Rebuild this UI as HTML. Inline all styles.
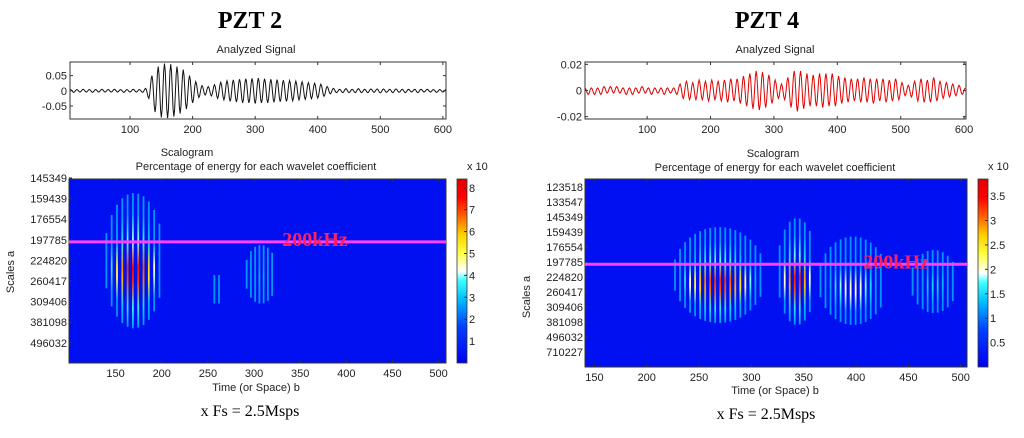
<!DOCTYPE html>
<html><head><meta charset="utf-8"><style>
body{margin:0;background:#fff;}
svg text{font-family:"Liberation Sans",sans-serif;fill:#222;}
.serif{font-family:"Liberation Serif",serif !important;}
</style></head><body>
<svg id="s" xmlns="http://www.w3.org/2000/svg" width="1024" height="433" viewBox="0 0 1024 433">
<defs>
<linearGradient id="cbar" x1="0" y1="1" x2="0" y2="0">
<stop offset="0" stop-color="#0000f0"/><stop offset="0.2" stop-color="#0040ff"/><stop offset="0.35" stop-color="#00c0ff"/><stop offset="0.45" stop-color="#40ffff"/><stop offset="0.5" stop-color="#ffffff"/><stop offset="0.6" stop-color="#ffff40"/><stop offset="0.7" stop-color="#ffd000"/><stop offset="0.8" stop-color="#ff6000"/><stop offset="0.9" stop-color="#ff0000"/><stop offset="1" stop-color="#e00000"/>
</linearGradient>
</defs>
<g id="root"></g>
</svg>
<script>
// ---- data ----
const sigLeftStart = 5, sigRightStart = 2, sigStep = 5;
const sigLeftAmp = [0.004,0.005,0.004,0.004,0.005,0.004,0.004,0.005,0.004,0.004,0.005,0.004,0.004,0.004,0.005,0.004,0.004,0.005,0.004,0.004,0.005,0.004,0.004,0.005,
0.008,0.025,0.05,0.07,0.08,0.088,0.09,0.09,0.088,0.085,0.08,0.075,0.07,0.06,0.05,0.04,0.03,0.022,0.017,0.014,0.014,0.017,0.02,0.025,0.028,0.03,0.033,0.035,0.036,0.037,0.038,0.04,0.04,0.04,0.041,0.042,0.042,0.04,0.04,0.04,0.038,0.038,0.037,0.036,0.035,0.035,0.034,0.033,0.032,0.03,0.03,0.028,0.027,0.026,0.025,0.024,0.022,0.018,0.014,0.01,0.008,
0.006,0.005,0.006,0.007,0.006,0.005,0.006,0.007,0.006,0.005,0.006,0.006,0.005,0.006,0.007,0.006,0.005,0.005,0.006,0.006,0.005,0.005,0.006,0.005,0.004,0.005,0.006,0.005,0.004,0.005,0.004,0.004,0.005,0.004,0.004,0.004];
const sigRightAmp = [0.002,0.003,0.002,0.003,0.002,0.003,0.003,0.002,0.003,0.002,0.003,0.002,0.002,0.003,0.002,0.003,0.002,0.002,0.003,0.002,0.002,0.003,0.002,0.002,0.002,0.003,0.002,0.002,0.002,0.003,
0.005,0.006,0.007,0.007,0.006,0.007,0.008,0.007,0.007,0.008,0.008,0.007,0.007,0.008,0.008,0.009,0.009,0.008,0.009,0.01,
0.011,0.012,0.013,0.014,0.015,0.015,0.014,0.013,0.012,0.01,
0.008,0.006,0.005,0.007,0.01,0.013,
0.015,0.016,0.015,0.014,0.013,0.012,0.012,
0.012,0.013,0.013,0.013,0.012,0.013,0.012,0.011,0.01,0.01,0.009,0.009,
0.008,0.009,0.009,0.01,0.009,0.009,0.01,0.009,0.008,0.009,0.009,0.008,0.008,0.009,0.007,0.006,
0.004,0.004,0.005,0.007,0.008,0.009,0.009,0.008,0.009,0.01,0.008,0.007,0.006,0.006,0.005,0.005,0.004,0.004,0.003,0.002];
const sigLeftTicksY = ["0.05","0","-0.05"], sigLeftTickVals=[0.05,0,-0.05];
const sigRightTicksY = ["0.02","0","-0.02"], sigRightTickVals=[0.02,0,-0.02];
const sigTicksX = [100,200,300,400,500,600];
const scaleLabelsLeft = ["145349","159439","176554","197785","224820","260417","309406","381098","496032"];
const scaleLabelsRight = ["123518","133547","145349","159439","176554","197785","224820","260417","309406","381098","496032","710227"];
const timeTicksLeft = [150,200,250,300,350,400,450,500];
const timeTicksRight = [150,200,250,300,350,400,450,500];
const cbarLeftTicks = [1,2,3,4,5,6,7,8];
const cbarRightTicks = [0.5,1,1.5,2,2.5,3,3.5];
// blobs: b start, b end, stripe spacing, top scale index, bottom scale index, peak value
const blobLeftStart=[140,292,257], blobLeftEnd=[200,323,262], blobLeftSpacing=[5.75,4.6,5], blobLeftTop=[0.73,3.25,4.6], blobLeftBottom=[7.3,6.1,6.2], blobLeftPeak=[8,3,1];
const blobRightStart=[227,327,366,454], blobRightEnd=[311,360,428,495], blobRightSpacing=[4.8,4.8,4.8,4.8], blobRightTop=[2.67,2.07,3.3,4.2], blobRightBottom=[9.07,9.2,9.2,8.4], blobRightPeak=[3.5,3.6,2.2,1.6];
const freqLeftIdx = 3.1, freqRightIdx = 5.15;

// ---- helpers ----
const NS="http://www.w3.org/2000/svg";
const root=document.getElementById('root');
function el(tag,attrs,parent,text){const e=document.createElementNS(NS,tag);for(const k in attrs)e.setAttribute(k,attrs[k]);if(text!==undefined)e.textContent=text;(parent||root).appendChild(e);return e;}
function jet(t){t=Math.max(0,Math.min(1,t));const st=[[0,[0,0,240]],[0.2,[0,64,255]],[0.35,[0,192,255]],[0.45,[64,255,255]],[0.5,[255,255,255]],[0.6,[255,255,64]],[0.7,[255,208,0]],[0.8,[255,96,0]],[0.9,[255,0,0]],[1,[224,0,0]]];for(let i=1;i<st.length;i++){if(t<=st[i][0]){const a=st[i-1],b=st[i];const f=(t-a[0])/(b[0]-a[0]);const c=a[1].map((v,j)=>Math.round(v+(b[1][j]-v)*f));return `rgb(${c})`;}}return 'rgb(224,0,0)';}

function text(x,y,s,name,opts){const t=el('text',Object.assign({x:x,y:y,'font-size':11,'text-anchor':'middle'},opts||{}),root,s);return t;}

// ---- signal plot ----
function signalPlot(cfg){
  const g=el('g',{});
  
  
  const xs=v=>cfg.x0+(v-cfg.xmin)/(cfg.xmax-cfg.xmin)*(cfg.x1-cfg.x0);
  const ys=v=>cfg.y0+(cfg.ymax-v)/(cfg.ymax-cfg.ymin)*(cfg.y1-cfg.y0);
  el('rect',{x:cfg.x0,y:cfg.y0,width:cfg.x1-cfg.x0,height:cfg.y1-cfg.y0,fill:'#fff',stroke:'#333','stroke-width':1},g);
  let d='';let px=null,py=null;
  cfg.amp.forEach((a,i)=>{const b=cfg.start+i*cfg.step;const v=(i%2?-a:a);
    if(px===null){d+=`M${xs(b)},${ys(v)}`;}
    else{for(let k=1;k<=4;k++){const f=k/4;const bb=px+(b-px)*f;const vv=py+(v-py)*(1-Math.cos(Math.PI*f))/2;d+=`L${xs(bb).toFixed(2)},${ys(vv).toFixed(2)}`;}}
    px=b;py=v;});
  const line=el('path',{d:d,fill:'none',stroke:cfg.color,'stroke-width':1},g);
  
  
  cfg.ticksX.forEach(v=>{const x=xs(v);el('line',{x1:x,x2:x,y1:cfg.y1,y2:cfg.y1-3,stroke:'#333'},g);el('line',{x1:x,x2:x,y1:cfg.y0,y2:cfg.y0+3,stroke:'#333'},g);
    const t=el('text',{x:x,y:cfg.y1+14,'font-size':11,'text-anchor':'middle'},g,String(v));});
  cfg.tickVals.forEach((v,i)=>{const y=ys(v);el('line',{x1:cfg.x0,x2:cfg.x0+3,y1:y,y2:y,stroke:'#333'},g);el('line',{x1:cfg.x1,x2:cfg.x1-3,y1:y,y2:y,stroke:'#333'},g);
    const t=el('text',{x:cfg.x0-3,y:y+4,'font-size':11,'text-anchor':'end'},g,cfg.tickLabels[i]);});
}

// ---- scalogram ----
function scalogram(cfg){
  const g=el('g',{});
  
  
  const xs=b=>cfg.x0+(b-cfg.bmin)/(cfg.bmax-cfg.bmin)*(cfg.x1-cfg.x0);
  const yi=i=>cfg.yLab0+i*cfg.yLabStep;
  el('rect',{x:cfg.x0,y:cfg.y0,width:cfg.x1-cfg.x0,height:cfg.y1-cfg.y0,fill:'#0010f0'},g);
  cfg.bS.forEach((bs,k)=>{
    const be=cfg.bE[k],mid=(bs+be)/2,half=(be-bs)/2;const cy=(cfg.top[k]+cfg.bot[k])/2,hh=(cfg.bot[k]-cfg.top[k])/2;
    for(let b=bs;b<=be+0.01;b+=cfg.sp[k]){
      const r=Math.max(0.15,Math.sqrt(Math.max(0,1-Math.pow((b-mid)/(half+cfg.sp[k]*0.5),2))));
      const gid='g'+cfg.name+k+'_'+Math.round(b*10);
      const lg=el('linearGradient',{id:gid,x1:0,y1:0,x2:0,y2:1},document.querySelector('defs'));
      const pk=cfg.peak[k]*r*r/cfg.vmax;
      [[0,0.15],[0.15,0.3],[0.35,0.5],[0.55,0.95],[0.65,0.9],[0.85,0.45],[1,0.15]].forEach(s=>el('stop',{offset:s[0],'stop-color':jet(Math.max(0.3,pk*s[1]))},lg));
      const top=yi(cy-hh*r),bot=yi(cy+hh*r);
      const st=el('rect',{x:xs(b)-0.9,y:top,width:1.8,height:bot-top,fill:`url(#${gid})`},g);
      
      
    }
  });
  el('rect',{x:cfg.x0,y:cfg.y0,width:cfg.x1-cfg.x0,height:cfg.y1-cfg.y0,fill:'none',stroke:'#333'},g);
  const fy=yi(cfg.freqIdx);
  const fl=el('line',{x1:cfg.x0,x2:cfg.x1,y1:fy,y2:fy,stroke:'#ff40ff','stroke-width':3},g);
  
  const ft=el('text',{x:cfg.freqX,y:fy+4,'font-size':20,'font-weight':'bold','text-anchor':'middle',class:'serif',style:'fill:#ff2060'},g,'200kHz');
  
  cfg.ylabels.forEach((s,i)=>{const y=yi(i);el('line',{x1:cfg.x0,x2:cfg.x0+3,y1:y,y2:y,stroke:'#333'},g);
    const t=el('text',{x:cfg.x0-2,y:y+4,'font-size':11,'text-anchor':'end'},g,s);});
  cfg.xticks.forEach(v=>{const x=xs(v);el('line',{x1:x,x2:x,y1:cfg.y1,y2:cfg.y1-3,stroke:'#333'},g);el('line',{x1:x,x2:x,y1:cfg.y0,y2:cfg.y0+3,stroke:'#333'},g);
    const t=el('text',{x:x,y:cfg.y1+14,'font-size':11,'text-anchor':'middle'},g,String(v));});
  // colorbar
  const cb=el('rect',{x:cfg.cbx,y:cfg.y0,width:10,height:cfg.y1-cfg.y0,fill:'url(#cbar)',stroke:'#333','stroke-width':0.8},g);
  
  cfg.cticks.forEach(v=>{const y=cfg.y1-v/cfg.vmax*(cfg.y1-cfg.y0);el('line',{x1:cfg.cbx+10,x2:cfg.cbx+7,y1:y,y2:y,stroke:'#333'},g);
    const t=el('text',{x:cfg.cbx+12,y:y+4,'font-size':11,'text-anchor':'start'},g,String(v));});
  const xt=el('text',{x:cfg.cbx+10,y:cfg.y0-9,'font-size':11,'text-anchor':'start'},g,'x 10');
}

// ---- left panel ----
text(250,28,'PZT 2','title-pzt2',{'font-size':24,'font-weight':'bold',class:'serif','style':'fill:#000'});
text(256,53,'Analyzed Signal','signal-title-left');
signalPlot({name:'signal-plot-left',x0:70,x1:446,y0:62,y1:119,xmin:4,xmax:605,ymin:-0.093,ymax:0.095,amp:sigLeftAmp,start:sigLeftStart,step:sigStep,color:'#111',ticksX:sigTicksX,tickVals:sigLeftTickVals,tickLabels:sigLeftTicksY});
text(187,156,'Scalogram','scalogram-title-left');
text(256,170,'Percentage of energy for each wavelet coefficient','scalogram-subtitle-left');
scalogram({name:'scalogram-left',x0:69,x1:446,y0:179,y1:363,bmin:99.5,bmax:508,yLab0:178,yLabStep:20.6,ylabels:scaleLabelsLeft,xticks:timeTicksLeft,bS:blobLeftStart,bE:blobLeftEnd,sp:blobLeftSpacing,top:blobLeftTop,bot:blobLeftBottom,peak:blobLeftPeak,vmax:8.4,freqIdx:freqLeftIdx,freqX:315,cbx:457,cticks:cbarLeftTicks});
text(14,272,'Scales a','y-axis-title-left',{transform:'rotate(-90 14 272)'});
text(256,391,'Time (or Space) b','x-axis-title-left');
text(250,416,'x Fs = 2.5Msps','sampling-note-left',{'font-size':16,class:'serif',style:'fill:#000'});

// ---- right panel ----
text(767,28,'PZT 4','title-pzt4',{'font-size':24,'font-weight':'bold',class:'serif','style':'fill:#000'});
text(775,53,'Analyzed Signal','signal-title-right');
signalPlot({name:'signal-plot-right',x0:585,x1:966,y0:62,y1:119,xmin:2,xmax:603,ymin:-0.0218,ymax:0.0218,amp:sigRightAmp,start:sigRightStart,step:sigStep,color:'#e00000',ticksX:sigTicksX,tickVals:sigRightTickVals,tickLabels:sigRightTicksY});
text(773,157,'Scalogram','scalogram-title-right');
text(775,171,'Percentage of energy for each wavelet coefficient','scalogram-subtitle-right');
scalogram({name:'scalogram-right',x0:585,x1:967,y0:179,y1:367,bmin:141,bmax:506,yLab0:187,yLabStep:15,ylabels:scaleLabelsRight,xticks:timeTicksRight,bS:blobRightStart,bE:blobRightEnd,sp:blobRightSpacing,top:blobRightTop,bot:blobRightBottom,peak:blobRightPeak,vmax:3.85,freqIdx:freqRightIdx,freqX:896,cbx:978,cticks:cbarRightTicks});
text(530,297,'Scales a','y-axis-title-right',{transform:'rotate(-90 530 297)'});
text(775,394,'Time (or Space) b','x-axis-title-right');
text(766,419,'x Fs = 2.5Msps','sampling-note-right',{'font-size':16,class:'serif',style:'fill:#000'});
</script>
</body></html>
